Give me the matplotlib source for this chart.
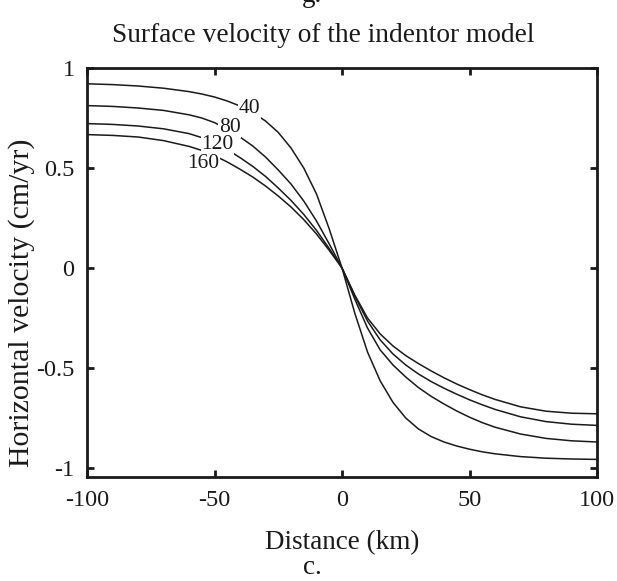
import numpy as np
import matplotlib
matplotlib.use('Agg')
import matplotlib.pyplot as plt

# Data (distance in km, velocity in cm/yr)
distance = [-100, -90, -80, -70, -60, -55, -50, -45, -40, -35, -30, -25, -20, -15, -10, -5, 0,
            5, 10, 15, 20, 25, 30, 35, 40, 45, 50, 55, 60, 70, 80, 90, 100]

v40 = [0.921, 0.917, 0.910, 0.899, 0.882, 0.870, 0.855, 0.835, 0.810, 0.778, 0.735, 0.678, 0.600,
       0.500, 0.370, 0.195, 0.0,
       -0.225, -0.420, -0.565, -0.672, -0.750, -0.805, -0.843, -0.870, -0.890, -0.906, -0.919,
       -0.929, -0.943, -0.951, -0.955, -0.957]
v80 = [0.812, 0.808, 0.800, 0.788, 0.766, 0.750, 0.727, 0.695, 0.655, 0.610, 0.555, 0.490, 0.420,
       0.335, 0.235, 0.120, 0.0,
       -0.155, -0.300, -0.410, -0.485, -0.545, -0.598, -0.642, -0.680, -0.715, -0.746, -0.773,
       -0.796, -0.830, -0.852, -0.864, -0.870]
v120 = [0.722, 0.718, 0.710, 0.696, 0.672, 0.652, 0.626, 0.592, 0.552, 0.508, 0.458, 0.400, 0.338,
        0.268, 0.188, 0.097, 0.0,
        -0.140, -0.265, -0.360, -0.430, -0.485, -0.530, -0.568, -0.601, -0.631, -0.659, -0.684,
        -0.707, -0.744, -0.768, -0.781, -0.787]
v160 = [0.667, 0.663, 0.655, 0.637, 0.608, 0.588, 0.562, 0.530, 0.494, 0.455, 0.410, 0.360, 0.305,
        0.242, 0.170, 0.088, 0.0,
        -0.135, -0.250, -0.330, -0.390, -0.438, -0.478, -0.515, -0.549, -0.580, -0.608, -0.634,
        -0.657, -0.694, -0.716, -0.726, -0.729]

curve_labels = ['40', '80', '120', '160']
label_x = [-36.3, -44.1, -48.8, -54.3]
label_y = [0.796, 0.701, 0.616, 0.520]

xticks = [-100, -50, 0, 50, 100]
xticklabels = ['-100', '-50', '0', '50', '100']
yticks = [-1, -0.5, 0, 0.5, 1]
yticklabels = ['-1', '-0.5', '0', '0.5', '1']

plt.rcParams['font.family'] = ['Liberation Serif', 'DejaVu Serif']
plt.rcParams['axes.unicode_minus'] = False
ink = '#1a1a1a'

fig = plt.figure(figsize=(6.17, 5.81), dpi=100)
ax = fig.add_axes([87/617, 1 - 477/581, 510/617, 409/581])

for vals in [v40, v80, v120, v160]:
    ax.plot(distance, vals, color=ink, lw=1.1, solid_joinstyle='round')

# inline curve labels (line is hidden under a white box, like contour labels)
for lab, lx, ly in zip(curve_labels, label_x, label_y):
    ax.text(lx, ly, lab, fontsize=15.5, ha='center', va='center', color=ink,
            bbox=dict(facecolor='white', edgecolor='none', pad=0.3))

ax.set_xlim(-100, 100)
ax.set_ylim(-1.045, 1.0)
ax.set_xticks(xticks)
ax.set_xticklabels(xticklabels)
ax.set_yticks(yticks)
ax.set_yticklabels(yticklabels)
ax.tick_params(direction='in', length=5, width=2, top=True, right=True,
               labelsize=17.5, pad=9, colors=ink)
for sp in ax.spines.values():
    sp.set_linewidth(2)
    sp.set_color(ink)

ax.set_xlabel('Distance (km)', fontsize=19.5, labelpad=14, color=ink)
fig.text(22/617, 1 - 303/581, 'Horizontal velocity (cm/yr)', fontsize=21.5, rotation=90,
         ha='center', va='center', color=ink)

fig.text(323/617, 1 - 35/581, 'Surface velocity of the indentor model', fontsize=19.7,
         ha='center', va='center', color=ink)
fig.text(312/617, 1 - 2/581, 'g.', fontsize=19.5, ha='center', va='baseline', color=ink)
fig.text(312/617, 1 - 567/581, 'c.', fontsize=19.5, ha='center', va='center', color=ink)

fig.savefig('out.png', dpi=100)
